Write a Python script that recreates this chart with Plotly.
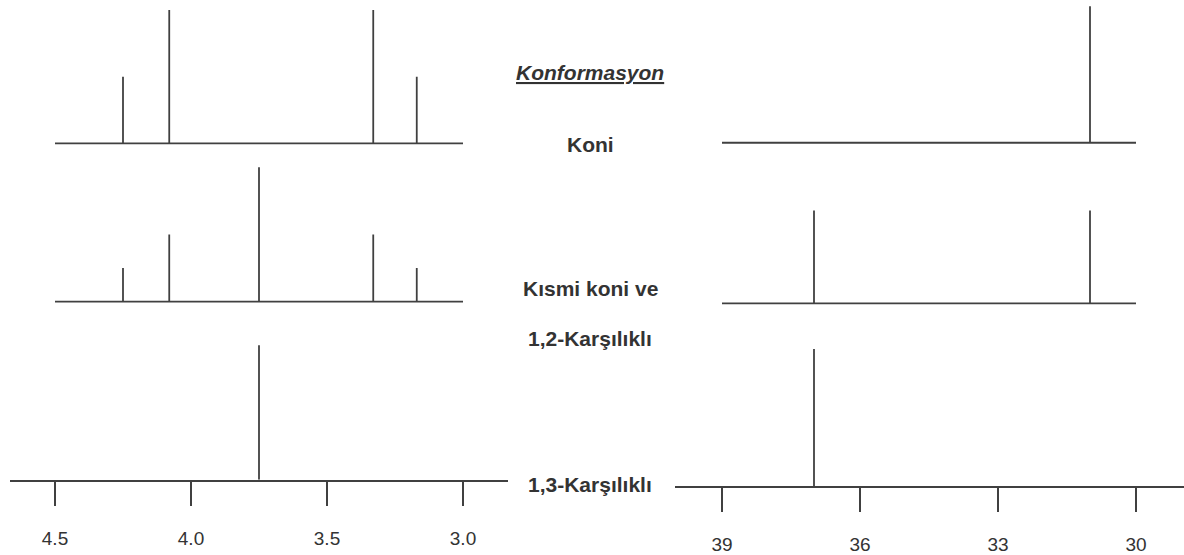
import plotly.graph_objects as go

W, H = 1184, 555

# ---------------- data ----------------
# Left panels: 1H NMR (ppm)
h_ticks = [4.5, 4.0, 3.5, 3.0]
h_tick_labels = ["4.5", "4.0", "3.5", "3.0"]
h_baseline = [4.5, 3.0]
h_row1_shift = [4.25, 4.08, 3.33, 3.17]
h_row1_int = [0.5, 1.0, 1.0, 0.5]
h_row2_shift = [4.25, 4.08, 3.75, 3.33, 3.17]
h_row2_int = [0.25, 0.5, 1.0, 0.5, 0.25]
h_row3_shift = [3.75]
h_row3_int = [1.0]

# Right panels: 13C NMR (ppm)
c_ticks = [39, 36, 33, 30]
c_tick_labels = ["39", "36", "33", "30"]
c_baseline = [39, 30]
c_row1_shift = [31.0]
c_row1_int = [1.0]
c_row2_shift = [37.0, 31.0]
c_row2_int = [0.68, 0.68]
c_row3_shift = [37.0]
c_row3_int = [1.0]

title_label = "Konformasyon"
row_labels = ["Koni", "Kısmi koni ve", "1,2-Karşılıklı", "1,3-Karşılıklı"]

# ---------------- style ----------------
LINE = "#404040"
TEXT = "#333333"
FONT = "Liberation Sans, Arial, sans-serif"
LW = 1.8

def py(px):
    return min(1.0, max(0.0, 1 - px / H))

def px_x(px):
    return min(1.0, max(0.0, px / W))

left_dom = [px_x(10), px_x(508)]
left_rng = [4.5 + 45 / 272, 3.0 - 45 / 272]
right_dom = [px_x(675), 1.0]
right_rng = [39 + 47 / 46, 30 - 48 / 46]

# panels: (side, baseline px, unit px, is_bottom, shifts, intensities)
panels = [
    ("L", 145.0, 135.0, False, h_row1_shift, h_row1_int),
    ("L", 305.0, 136.0, False, h_row2_shift, h_row2_int),
    ("L", 485.0, 136.0, True, h_row3_shift, h_row3_int),
    ("R", 144.3, 138.0, False, c_row1_shift, c_row1_int),
    ("R", 306.7, 138.0, False, c_row2_shift, c_row2_int),
    ("R", 491.7, 139.0, True, c_row3_shift, c_row3_int),
]

fig = go.Figure()
layout = dict(
    width=W, height=H,
    margin=dict(l=0, r=0, t=0, b=0),
    paper_bgcolor="white", plot_bgcolor="white",
    showlegend=False,
    font=dict(family=FONT, color=TEXT),
)

for k, (side, base, unit, bottom, shifts, ints) in enumerate(panels):
    n = k + 1
    xa = "xaxis" if n == 1 else f"xaxis{n}"
    ya = "yaxis" if n == 1 else f"yaxis{n}"
    xr = "x" if n == 1 else f"x{n}"
    yr = "y" if n == 1 else f"y{n}"
    dom = left_dom if side == "L" else right_dom
    rng = left_rng if side == "L" else right_rng
    ticks = h_ticks if side == "L" else c_ticks
    tlabels = h_tick_labels if side == "L" else c_tick_labels

    if bottom:
        ymin, ymax = 0.0, 1.05
    else:
        ymin, ymax = -0.1, 1.05
    top_px = max(0.5, base - ymax * unit)
    ymax = (base - top_px) / unit
    bot_px = base - ymin * unit

    xax = dict(domain=dom, range=rng, anchor=yr, showgrid=False, zeroline=False, fixedrange=True)
    if bottom:
        xax.update(
            showline=True, linecolor=LINE, linewidth=LW,
            ticks="outside", ticklen=24, tickwidth=LW, tickcolor=LINE,
            tickmode="array", tickvals=ticks, ticktext=tlabels,
            tickfont=dict(size=19, color=TEXT, family=FONT),
            ticklabelstandoff=17 if side == "L" else 16,
        )
    else:
        xax.update(visible=False)
    layout[xa] = xax
    layout[ya] = dict(domain=[py(bot_px), py(top_px)], range=[ymin, ymax],
                      anchor=xr, visible=False, fixedrange=True)

    if not bottom:
        base_x = h_baseline if side == "L" else c_baseline
        fig.add_trace(go.Scatter(x=base_x, y=[0, 0], mode="lines",
                                 line=dict(color=LINE, width=LW),
                                 xaxis=xr, yaxis=yr, hoverinfo="skip"))
    xs, ys = [], []
    for s, v in zip(shifts, ints):
        xs += [s, s, None]
        ys += [0, v, None]
    fig.add_trace(go.Scatter(x=xs, y=ys, mode="lines",
                             line=dict(color=LINE, width=LW),
                             xaxis=xr, yaxis=yr, hoverinfo="skip", cliponaxis=False))

cx = px_x(590)
ann = [
    dict(text=f"<b><i><u>{title_label}</u></i></b>", y=py(73)),
    dict(text=f"<b>{row_labels[0]}</b>", y=py(146)),
    dict(text=f"<b>{row_labels[1]}</b>", y=py(292)),
    dict(text=f"<b>{row_labels[2]}</b>", y=py(342)),
    dict(text=f"<b>{row_labels[3]}</b>", y=py(490)),
]
layout["annotations"] = [
    dict(a, x=cx, xref="paper", yref="paper", xanchor="center", yanchor="middle",
         showarrow=False, font=dict(size=21, color=TEXT, family=FONT))
    for a in ann
]

fig.update_layout(**layout)
# remove the browser's default 8px body margin so the figure fills the window exactly
fig.write_html("out.html",
               config={"displayModeBar": False},
               post_script="document.body.style.margin='0';document.body.style.overflow='hidden';")
